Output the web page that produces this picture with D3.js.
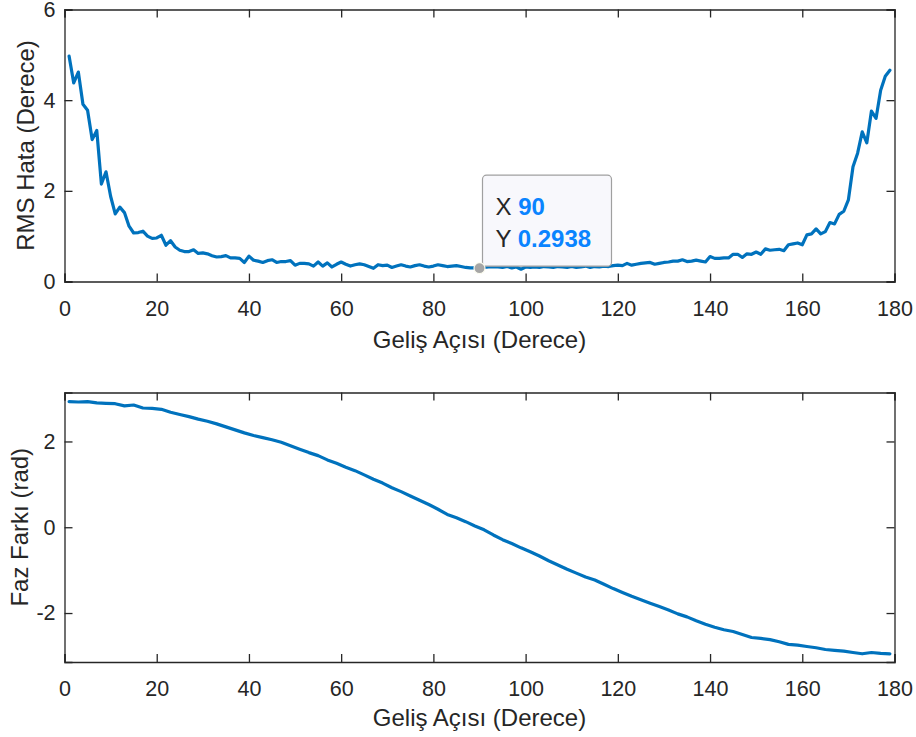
<!DOCTYPE html>
<html>
<head>
<meta charset="utf-8">
<script src="https://cdn.jsdelivr.net/npm/d3@7"></script>
<style>
  html, body { margin: 0; padding: 0; background: #ffffff; }
  svg { display: block; font-family: "Liberation Sans", Arial, Helvetica, sans-serif; }
</style>
</head>
<body>
<svg id="chart" width="916" height="737"></svg>
<script>
// ---------------- DATA ----------------
const xLabel = "Geliş Açısı (Derece)";
const topYLabel = "RMS Hata (Derece)";
const bottomYLabel = "Faz Farkı (rad)";

const xTicks = [0, 20, 40, 60, 80, 100, 120, 140, 160, 180];
const topYTicks = [0, 2, 4, 6];
const bottomYTicks = [-2, 0, 2];

// RMS error per incidence angle (1..179 degrees)
const rmsAngles = d3.range(1, 180);
const rmsError = [
  4.97, 4.38, 4.62, 3.91, 3.78, 3.13, 3.33, 2.15, 2.42, 1.88,
  1.49, 1.64, 1.52, 1.22, 1.07, 1.08, 1.11, 1.00, 0.95, 0.96,
  1.02, 0.80, 0.90, 0.76, 0.69, 0.66, 0.66, 0.70, 0.62, 0.63,
  0.61, 0.57, 0.54, 0.55, 0.57, 0.52, 0.52, 0.51, 0.42, 0.56,
  0.47, 0.45, 0.42, 0.46, 0.48, 0.42, 0.44, 0.44, 0.46, 0.36,
  0.40, 0.40, 0.39, 0.34, 0.43, 0.34, 0.41, 0.32, 0.38, 0.43,
  0.38, 0.34, 0.37, 0.39, 0.37, 0.33, 0.29, 0.37, 0.35, 0.36,
  0.31, 0.34, 0.37, 0.34, 0.32, 0.35, 0.37, 0.34, 0.32, 0.34,
  0.37, 0.35, 0.33, 0.34, 0.35, 0.33, 0.31, 0.30, 0.30, 0.2938,
  0.31, 0.32, 0.33, 0.32, 0.31, 0.33, 0.30, 0.32, 0.27, 0.32,
  0.31, 0.32, 0.31, 0.33, 0.32, 0.31, 0.33, 0.32, 0.31, 0.33,
  0.31, 0.32, 0.34, 0.31, 0.33, 0.32, 0.34, 0.33, 0.35, 0.36,
  0.35, 0.40, 0.36, 0.38, 0.40, 0.41, 0.42, 0.38, 0.40, 0.42,
  0.43, 0.45, 0.45, 0.48, 0.44, 0.45, 0.47, 0.45, 0.43, 0.55,
  0.51, 0.51, 0.52, 0.52, 0.60, 0.60, 0.53, 0.61, 0.60, 0.65,
  0.60, 0.72, 0.69, 0.70, 0.71, 0.68, 0.81, 0.83, 0.85, 0.81,
  1.03, 1.05, 1.16, 1.05, 1.10, 1.30, 1.27, 1.48, 1.55, 1.80,
  2.53, 2.83, 3.30, 3.06, 3.76, 3.60, 4.22, 4.53, 4.66
];

// Phase difference (rad) at odd angles 1..179
const phaseAngles = d3.range(1, 180, 2);
const phaseDiff = [
  2.93, 2.92, 2.93, 2.90, 2.89, 2.88, 2.83, 2.85, 2.78, 2.77,
  2.75, 2.68, 2.63, 2.58, 2.52, 2.47, 2.41, 2.34, 2.27, 2.20,
  2.14, 2.09, 2.04, 1.98, 1.90, 1.82, 1.74, 1.67, 1.57, 1.49,
  1.40, 1.32, 1.22, 1.12, 1.03, 0.92, 0.83, 0.73, 0.63, 0.53,
  0.42, 0.30, 0.22, 0.13, 0.03, -0.06, -0.18, -0.29, -0.38, -0.48,
  -0.57, -0.67, -0.78, -0.88, -0.98, -1.07, -1.16, -1.23, -1.33, -1.43,
  -1.52, -1.61, -1.69, -1.77, -1.85, -1.93, -2.02, -2.09, -2.18, -2.26,
  -2.33, -2.39, -2.43, -2.50, -2.57, -2.59, -2.62, -2.67, -2.73, -2.75,
  -2.78, -2.81, -2.85, -2.87, -2.89, -2.92, -2.95, -2.92, -2.94, -2.95
];

// Data tip
const tipX = 90;
const tipY = 0.2938;

// ---------------- DRAW ----------------
const svg = d3.select("#chart");
const axisColor = "#262626";
const lineColor = "#0072BD";
const tickFont = 21.5;
const labelFont = 24;
const tickLen = 8;

const left = 64.5, right = 894.5;

function panel(top, bottom, yDomain, yTicks, xs, ys, yLabel, yLabelX, xLabelY) {
  const x = d3.scaleLinear().domain([0, 180]).range([left, right]);
  const y = d3.scaleLinear().domain(yDomain).range([bottom, top]);
  const g = svg.append("g");

  g.append("rect").attr("x", left).attr("y", top)
    .attr("width", right - left).attr("height", bottom - top)
    .attr("fill", "#ffffff");

  const line = d3.line().x((d, i) => x(xs[i])).y(d => y(d));
  g.append("path").datum(ys)
    .attr("d", line)
    .attr("fill", "none")
    .attr("stroke", lineColor)
    .attr("stroke-width", 3.2)
    .attr("stroke-linejoin", "round")
    .attr("stroke-linecap", "round");

  const fmt = d => String(d).replace("\u2212", "-");
  const bottomAxis = d3.axisBottom(x).tickValues(xTicks).tickSize(-tickLen).tickPadding(19).tickFormat(fmt);
  const topAxis = d3.axisTop(x).tickValues(xTicks).tickSize(-tickLen).tickFormat("");
  const leftAxis = d3.axisLeft(y).tickValues(yTicks).tickSize(-tickLen).tickPadding(9).tickFormat(fmt);
  const rightAxis = d3.axisRight(y).tickValues(yTicks).tickSize(-tickLen).tickFormat("");

  const styleAxis = sel => {
    sel.selectAll("path.domain").attr("stroke", axisColor).attr("stroke-width", 1.3);
    sel.selectAll(".tick line").attr("stroke", axisColor).attr("stroke-width", 1.3);
    sel.selectAll(".tick text").attr("fill", axisColor)
      .style("font-size", tickFont + "px")
      .style("font-family", '"Liberation Sans", Arial, sans-serif');
  };

  g.append("g").attr("transform", `translate(0,${bottom})`).call(bottomAxis).call(styleAxis);
  g.append("g").attr("transform", `translate(0,${top})`).call(topAxis).call(styleAxis);
  g.append("g").attr("transform", `translate(${left},0)`).call(leftAxis).call(styleAxis);
  g.append("g").attr("transform", `translate(${right},0)`).call(rightAxis).call(styleAxis);

  g.append("text")
    .attr("x", (left + right) / 2).attr("y", xLabelY)
    .attr("text-anchor", "middle")
    .attr("fill", axisColor)
    .style("font-size", labelFont + "px")
    .text(xLabel);

  g.append("text")
    .attr("transform", `translate(${yLabelX},${(top + bottom) / 2}) rotate(-90)`)
    .attr("text-anchor", "middle")
    .attr("fill", axisColor)
    .style("font-size", labelFont + "px")
    .text(yLabel);

  return { x, y, g };
}

// top panel
const p1 = panel(9.5, 281.5, [0, 6], topYTicks, rmsAngles, rmsError, topYLabel, 34, 348);

// bottom panel
const p2 = panel(392.5, 662, [-Math.PI, Math.PI], bottomYTicks, phaseAngles, phaseDiff, bottomYLabel, 28, 726);

// data tip on top panel
const tx = p1.x(tipX), ty = p1.y(tipY);
const tip = svg.append("g");
tip.append("rect")
  .attr("x", tx + 3).attr("y", ty - 93)
  .attr("width", 129).attr("height", 91)
  .attr("rx", 4).attr("ry", 4)
  .attr("fill", "#f8f8fc")
  .attr("stroke", "#a0a0a0")
  .attr("stroke-width", 1.2);
tip.append("circle")
  .attr("cx", tx).attr("cy", ty).attr("r", 5.5)
  .attr("fill", "#a6a6a6")
  .attr("stroke", "#fbfbef")
  .attr("stroke-width", 1.2);

const tipFont = 24;
const rowX = tip.append("text").attr("x", tx + 16).attr("y", ty - 53)
  .style("font-size", tipFont + "px").attr("fill", axisColor);
rowX.append("tspan").text("X ");
rowX.append("tspan").attr("fill", "#0a84ff").attr("font-weight", "bold").text(String(tipX));

const rowY = tip.append("text").attr("x", tx + 16).attr("y", ty - 21)
  .style("font-size", tipFont + "px").attr("fill", axisColor);
rowY.append("tspan").text("Y ");
rowY.append("tspan").attr("fill", "#0a84ff").attr("font-weight", "bold").text(String(tipY));
</script>
</body>
</html>
